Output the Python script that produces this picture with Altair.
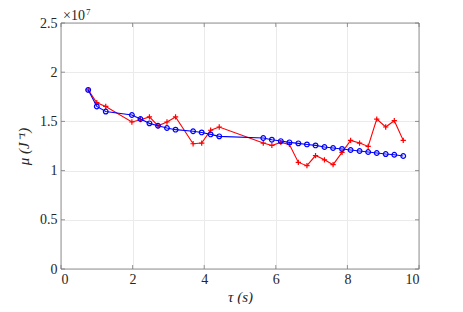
import altair as alt
import pandas as pd

# time (s)
tau = [0.76, 1.00, 1.25, 1.98, 2.22, 2.47, 2.71, 2.96, 3.20, 3.69, 3.93, 4.18, 4.42,
       5.65, 5.89, 6.14, 6.38, 6.63, 6.87, 7.11, 7.36, 7.60, 7.85, 8.09, 8.34, 8.58,
       8.82, 9.07, 9.31, 9.56]
# mu in units of 1e7 J^-1
mu_fit = [1.82, 1.652, 1.60, 1.565, 1.524, 1.48, 1.456, 1.433, 1.416, 1.40, 1.388, 1.368,
          1.348, 1.331, 1.314, 1.30, 1.287, 1.277, 1.266, 1.256, 1.24, 1.23, 1.22, 1.209,
          1.199, 1.189, 1.179, 1.168, 1.161, 1.148]
mu_meas = [1.82, 1.69, 1.652, 1.494, 1.517, 1.545, 1.456, 1.494, 1.545, 1.273, 1.28, 1.41,
           1.443, 1.28, 1.256, 1.287, 1.266, 1.083, 1.05, 1.153, 1.11, 1.06, 1.185, 1.307,
           1.28, 1.246, 1.524, 1.443, 1.507, 1.307]
x_ticks = [0, 2, 4, 6, 8, 10]
y_ticks = [0, 0.5, 1, 1.5, 2, 2.5]

W, H = 358, 246
FONT = "Times New Roman"
AX = "#262626"

df_meas = pd.DataFrame({"tau": tau, "mu": mu_meas})
df_fit = pd.DataFrame({"tau": tau, "mu": mu_fit})

xs = alt.Scale(domain=[0, 10], nice=False)
ys = alt.Scale(domain=[0, 2.5], nice=False)

xax = alt.Axis(values=x_ticks, format="d", title="τ (s)", grid=True, gridColor="#ebebeb",
               domain=False, ticks=False, labelPadding=3, titlePadding=3,
               labelFont=FONT, labelFontSize=14, labelColor=AX,
               titleFont=FONT, titleFontSize=15, titleFontStyle="italic", titleFontWeight="normal",
               titleColor=AX)
yax = alt.Axis(values=y_ticks, format="~g", title="μ (J⁻¹)", grid=True, gridColor="#ebebeb",
               domain=False, ticks=False, labelPadding=4, titlePadding=8,
               labelFont=FONT, labelFontSize=14, labelColor=AX,
               titleFont=FONT, titleFontSize=15, titleFontStyle="italic", titleFontWeight="normal",
               titleColor=AX)

base_meas = alt.Chart(df_meas).encode(x=alt.X("tau:Q", scale=xs, axis=xax),
                                      y=alt.Y("mu:Q", scale=ys, axis=yax))
red_line = base_meas.mark_line(color="#ff0000", strokeWidth=1.1)
red_pts = base_meas.mark_point(shape="M-1,0L1,0M0,-1L0,1", color="#ff0000", size=28,
                               strokeWidth=1.2, filled=False, opacity=1)

base_fit = alt.Chart(df_fit).encode(x=alt.X("tau:Q", scale=xs), y=alt.Y("mu:Q", scale=ys))
blue_line = base_fit.mark_line(color="#0000ff", strokeWidth=1.1)
blue_pts = base_fit.mark_point(shape="circle", color="#0000ff", size=22, strokeWidth=1.2,
                               filled=False, opacity=1)

# frame box
frame = alt.Chart(pd.DataFrame({"a": [0]})).mark_rect(fill=None, stroke="#7a7a7a",
                                                      strokeWidth=0.8).encode(
    x=alt.value(0), x2=alt.value(W), y=alt.value(0), y2=alt.value(H))

# inward ticks
dfx = pd.DataFrame({"t": x_ticks})
dfy = pd.DataFrame({"t": y_ticks})
xt_bot = alt.Chart(dfx).mark_rule(color="#7a7a7a", strokeWidth=0.8).encode(
    x=alt.X("t:Q", scale=xs), y=alt.value(H), y2=alt.value(H - 4))
xt_top = alt.Chart(dfx).mark_rule(color="#7a7a7a", strokeWidth=0.8).encode(
    x=alt.X("t:Q", scale=xs), y=alt.value(0), y2=alt.value(4))
yt_l = alt.Chart(dfy).mark_rule(color="#7a7a7a", strokeWidth=0.8).encode(
    y=alt.Y("t:Q", scale=ys), x=alt.value(0), x2=alt.value(4))
yt_r = alt.Chart(dfy).mark_rule(color="#7a7a7a", strokeWidth=0.8).encode(
    y=alt.Y("t:Q", scale=ys), x=alt.value(W), x2=alt.value(W - 4))

# exponent label
exp_base = alt.Chart(pd.DataFrame({"s": ["×10"]})).mark_text(
    font=FONT, fontSize=14, color=AX, align="left", baseline="alphabetic").encode(
    text="s:N", x=alt.value(2), y=alt.value(-3))
exp_pow = alt.Chart(pd.DataFrame({"s": ["7"]})).mark_text(
    font=FONT, fontSize=9, color=AX, align="left", baseline="alphabetic").encode(
    text="s:N", x=alt.value(25), y=alt.value(-8))

chart = alt.layer(frame, xt_bot, xt_top, yt_l, yt_r, red_line, red_pts, blue_line, blue_pts,
                  exp_base, exp_pow).properties(
    width=W, height=H,
    autosize=alt.AutoSizeParams(type="none"),
    padding={"left": 53, "top": 15, "right": 36, "bottom": 35},
).configure_view(stroke=None).configure(background="white")

chart.save("out.html", embed_options={"renderer": "svg", "actions": False})
